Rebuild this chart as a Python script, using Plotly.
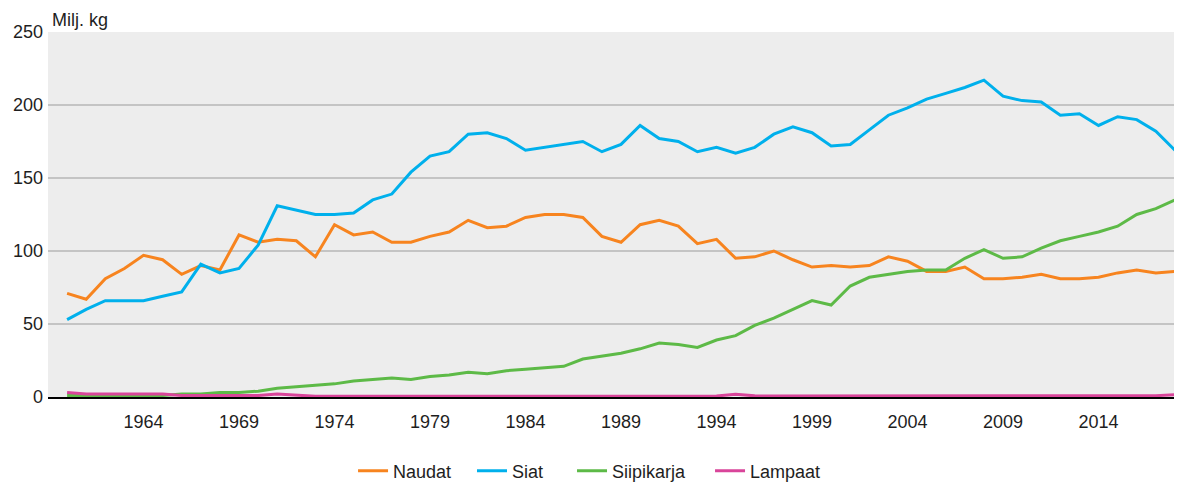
import plotly.graph_objects as go

# ── tyylit ──
ORANGE = "#f7841f"; BLUE = "#00b0ec"; GREEN = "#5dba47"; PINK = "#d9459a"
INK = "#1e1e1e"; GRID = "#c4c4c4"; PLOT_BG = "#ededed"
FONT = "Liberation Sans, Arial, sans-serif"

VUODET = list(range(1960, 2019))
NAUDAT = [71, 67, 81, 88, 97, 94, 84, 90, 87, 111, 106, 108, 107, 96, 118, 111, 113, 106, 106, 110,
          113, 121, 116, 117, 123, 125, 125, 123, 110, 106, 118, 121, 117, 105, 108, 95, 96, 100, 94, 89,
          90, 89, 90, 96, 93, 86, 86, 89, 81, 81, 82, 84, 81, 81, 82, 85, 87, 85, 86]
SIAT = [53, 60, 66, 66, 66, 69, 72, 91, 85, 88, 104, 131, 128, 125, 125, 126, 135, 139, 154, 165,
        168, 180, 181, 177, 169, 171, 173, 175, 168, 173, 186, 177, 175, 168, 171, 167, 171, 180, 185, 181,
        172, 173, 183, 193, 198, 204, 208, 212, 217, 206, 203, 202, 193, 194, 186, 192, 190, 182, 169]
SIIPIKARJA = [1, 1, 1, 1, 1, 1, 2, 2, 3, 3, 4, 6, 7, 8, 9, 11, 12, 13, 12, 14,
              15, 17, 16, 18, 19, 20, 21, 26, 28, 30, 33, 37, 36, 34, 39, 42, 49, 54, 60, 66,
              63, 76, 82, 84, 86, 87, 87, 95, 101, 95, 96, 102, 107, 110, 113, 117, 125, 129, 135]
LAMPAAT = [3, 2, 2, 2, 2, 2, 1, 1, 1, 1, 1, 2, 1, 0.5, 0.5, 0.5, 0.5, 0.5, 0.5, 0.5,
           0.5, 0.5, 0.5, 0.5, 0.5, 0.5, 0.5, 0.5, 0.5, 0.5, 0.5, 0.5, 0.5, 0.5, 0.7, 1.8, 0.8, 0.7, 0.7, 0.7,
           0.7, 0.7, 0.7, 0.7, 0.7, 0.7, 0.7, 0.7, 0.7, 0.7, 0.7, 0.7, 0.7, 0.7, 0.7, 0.7, 0.7, 0.9, 1.6]
X_TICKS = list(range(1964, 2015, 5))
Y_TICKS = [0, 50, 100, 150, 200, 250]

# nimi, data, väri, oma selite, selitteen x (paperikoordinaatit)
SARJAT = [("Naudat", NAUDAT, ORANGE, "legend", 0.269), ("Siat", SIAT, BLUE, "legend2", 0.3739),
          ("Siipikarja", SIIPIKARJA, GREEN, "legend3", 0.4621), ("Lampaat", LAMPAAT, PINK, "legend4", 0.5838)]

fig = go.Figure()
for nimi, arvot, vari, sel, _ in SARJAT:
    fig.add_trace(go.Scatter(x=VUODET, y=arvot, name=nimi, mode="lines", legend=sel,
                             showlegend=True, line=dict(color=vari, width=3)))

selitteet = {}
for _, _, _, sel, lx in SARJAT:
    selitteet[sel] = dict(orientation="h", x=lx, xanchor="left", y=-0.203, yanchor="middle",
                          font=dict(size=18), bgcolor="rgba(0,0,0,0)")

# sivun body-marginaali (8 px) huomioitu: kuva 1174x474
fig.update_layout(
    width=1174, height=474, margin=dict(l=40, r=0, t=24, b=85, autoexpand=False),
    paper_bgcolor="white", plot_bgcolor=PLOT_BG, showlegend=True,
    font=dict(family=FONT, size=18, color=INK),
    annotations=[dict(text="Milj. kg", xref="paper", yref="paper", x=0.002, y=1.033,
                      xanchor="left", yanchor="middle", showarrow=False, font=dict(size=18, color=INK))],
    **selitteet,
)
fig.update_xaxes(range=[1959, 2018.37], tickvals=X_TICKS, showgrid=False, zeroline=False,
                 showline=True, linecolor="black", linewidth=1.5, layer="above traces",
                 ticks="", ticklabelstandoff=8)
fig.update_yaxes(range=[0, 250], tickvals=Y_TICKS, gridcolor=GRID, gridwidth=1.5,
                 zeroline=False, showline=False, ticks="", ticklabelstandoff=4)

fig.write_html("out.html")
